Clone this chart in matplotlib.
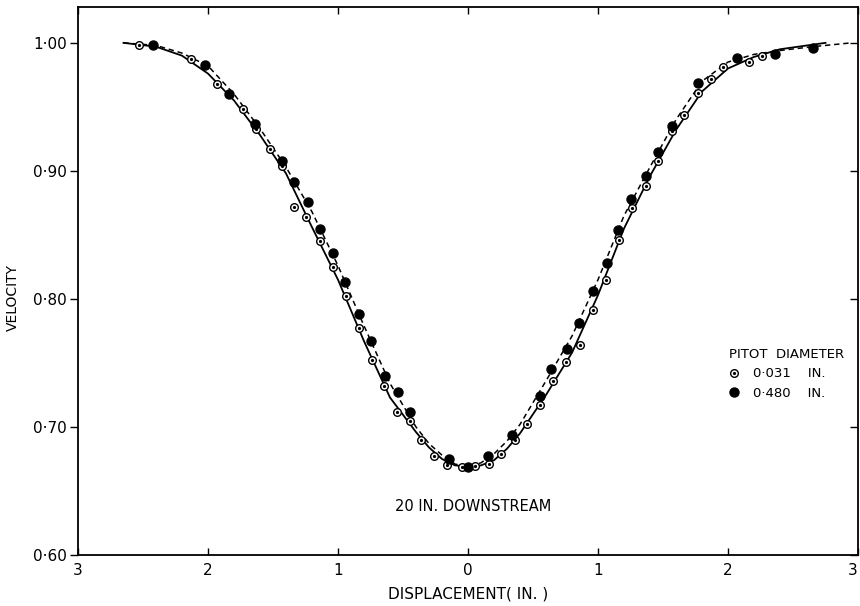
import matplotlib.pyplot as plt
from matplotlib.legend_handler import HandlerTuple

# pitot traverse across the wake, 20 in. downstream
# open circles: 0.031 in. pitot, solid curve
x_small = [-2.53, -2.13, -1.93, -1.73, -1.63, -1.52, -1.43, -1.34, -1.25, -1.14,
           -1.04, -0.94, -0.84, -0.74, -0.65, -0.55, -0.45, -0.36, -0.26, -0.16,
           -0.05, 0.05, 0.16, 0.25, 0.36, 0.45, 0.55, 0.65, 0.75, 0.86,
           0.96, 1.06, 1.16, 1.26, 1.37, 1.46, 1.57, 1.66, 1.77, 1.87,
           1.96, 2.16, 2.26]
v_small = [0.998, 0.987, 0.968, 0.948, 0.933, 0.917, 0.904, 0.872, 0.864, 0.845,
           0.825, 0.802, 0.777, 0.752, 0.732, 0.712, 0.705, 0.690, 0.677, 0.670,
           0.669, 0.6695, 0.671, 0.679, 0.690, 0.702, 0.717, 0.736, 0.751, 0.764,
           0.791, 0.815, 0.846, 0.871, 0.888, 0.908, 0.931, 0.944, 0.961, 0.972,
           0.981, 0.985, 0.990]

# filled circles: 0.480 in. pitot, dashed curve
x_large = [-2.42, -2.02, -1.84, -1.64, -1.43, -1.34, -1.23, -1.14, -1.04, -0.95,
           -0.84, -0.75, -0.64, -0.54, -0.45, -0.15, 0.0, 0.15, 0.34, 0.55,
           0.64, 0.76, 0.85, 0.96, 1.07, 1.15, 1.25, 1.37, 1.46, 1.57,
           1.77, 2.07, 2.36, 2.65]
v_large = [0.998, 0.983, 0.960, 0.937, 0.908, 0.891, 0.876, 0.855, 0.836, 0.813,
           0.788, 0.767, 0.740, 0.727, 0.712, 0.675, 0.6685, 0.677, 0.694, 0.724,
           0.745, 0.761, 0.781, 0.806, 0.828, 0.854, 0.878, 0.896, 0.915, 0.935,
           0.969, 0.988, 0.991, 0.996]

# faired curves
x_fit_small = [-2.65, -2.4, -2.2, -2.0, -1.8, -1.6, -1.4, -1.2, -1.0, -0.8,
               -0.6, -0.4, -0.3, -0.2, -0.1, 0.0, 0.1, 0.2, 0.3, 0.4,
               0.6, 0.8, 1.0, 1.2, 1.4, 1.6, 1.8, 2.0, 2.2, 2.4, 2.75]
v_fit_small = [1.000, 0.997, 0.990, 0.976, 0.955, 0.928, 0.898, 0.856, 0.815, 0.767,
               0.723, 0.696, 0.684, 0.675, 0.670, 0.669, 0.670, 0.674, 0.683, 0.695,
               0.725, 0.758, 0.803, 0.855, 0.896, 0.932, 0.962, 0.980, 0.989, 0.995, 1.000]

x_fit_large = [-2.65, -2.4, -2.2, -2.0, -1.8, -1.6, -1.4, -1.2, -1.0, -0.8,
               -0.6, -0.4, -0.3, -0.2, -0.1, 0.0, 0.1, 0.2, 0.3, 0.4,
               0.6, 0.8, 1.0, 1.2, 1.4, 1.6, 1.8, 2.0, 2.2, 2.4, 2.65, 2.95]
v_fit_large = [1.000, 0.998, 0.992, 0.982, 0.960, 0.933, 0.903, 0.868, 0.826, 0.779,
               0.734, 0.700, 0.687, 0.678, 0.671, 0.669, 0.672, 0.679, 0.689, 0.702,
               0.736, 0.771, 0.815, 0.865, 0.903, 0.940, 0.970, 0.985, 0.991, 0.994, 0.997, 1.000]

x_ticks = [-3, -2, -1, 0, 1, 2, 3]
y_ticks = [0.60, 0.70, 0.80, 0.90, 1.00]

fig = plt.figure(figsize=(8.6, 6.06), dpi=100)
ax = fig.add_axes([78 / 860, 51 / 606, 780 / 860, 548 / 606])

ax.plot(x_fit_small, v_fit_small, color='black', lw=1.3, zorder=2)
ax.plot(x_fit_large, v_fit_large, color='black', lw=1.1, ls=(0, (3.5, 2.5)), zorder=2)

open_ring, = ax.plot(x_small, v_small, ls='none', marker='o', ms=5.5, mfc='white',
                     mec='black', mew=1.0, zorder=3)
open_dot, = ax.plot(x_small, v_small, ls='none', marker='o', ms=1.3, color='black', zorder=4)
filled, = ax.plot(x_large, v_large, ls='none', marker='o', ms=6.5, color='black', zorder=3)

ax.set_xlim(-3, 3)
ax.set_ylim(0.60, 1.028)
ax.set_xticks(x_ticks)
ax.set_xticklabels([str(abs(t)) for t in x_ticks], fontsize=11)
ax.get_xticklabels()[-1].set_ha('right')  # keep the last "3" inside the figure
ax.set_yticks(y_ticks)
ax.set_yticklabels([f"{t:.2f}".replace('.', '\u00b7') for t in y_ticks], fontsize=11)
ax.tick_params(axis='x', direction='in', length=5, width=1, top=True, pad=6)
ax.tick_params(axis='y', direction='out', length=6, width=1, pad=2)
ax.tick_params(axis='y', which='major', right=True)
for t in ax.yaxis.get_ticklines()[1::2]:
    t.set_marker(0)  # right-hand ticks point inward
for s in ax.spines.values():
    s.set_linewidth(1.3)

ax.set_xlabel('DISPLACEMENT( IN. )', fontsize=11, labelpad=6)
ax.set_ylabel('VELOCITY', fontsize=10)
ax.yaxis.set_label_coords(-0.075, 0.47)

ax.text(0.04, 0.6375, '20 IN. DOWNSTREAM', ha='center', va='center', fontsize=10.5)

leg = ax.legend([(open_ring, open_dot), filled],
                ['0\u00b7031    IN.', '0\u00b7480    IN.'],
                handler_map={tuple: HandlerTuple(ndivide=1)},
                title='PITOT  DIAMETER', title_fontsize=9.5, fontsize=9.5,
                frameon=False, alignment='left', handlelength=0.8,
                handletextpad=1.0, labelspacing=0.5, borderpad=0,
                loc='upper left', bbox_to_anchor=(0.826, 0.39))

plt.savefig('out.png', dpi=100)
